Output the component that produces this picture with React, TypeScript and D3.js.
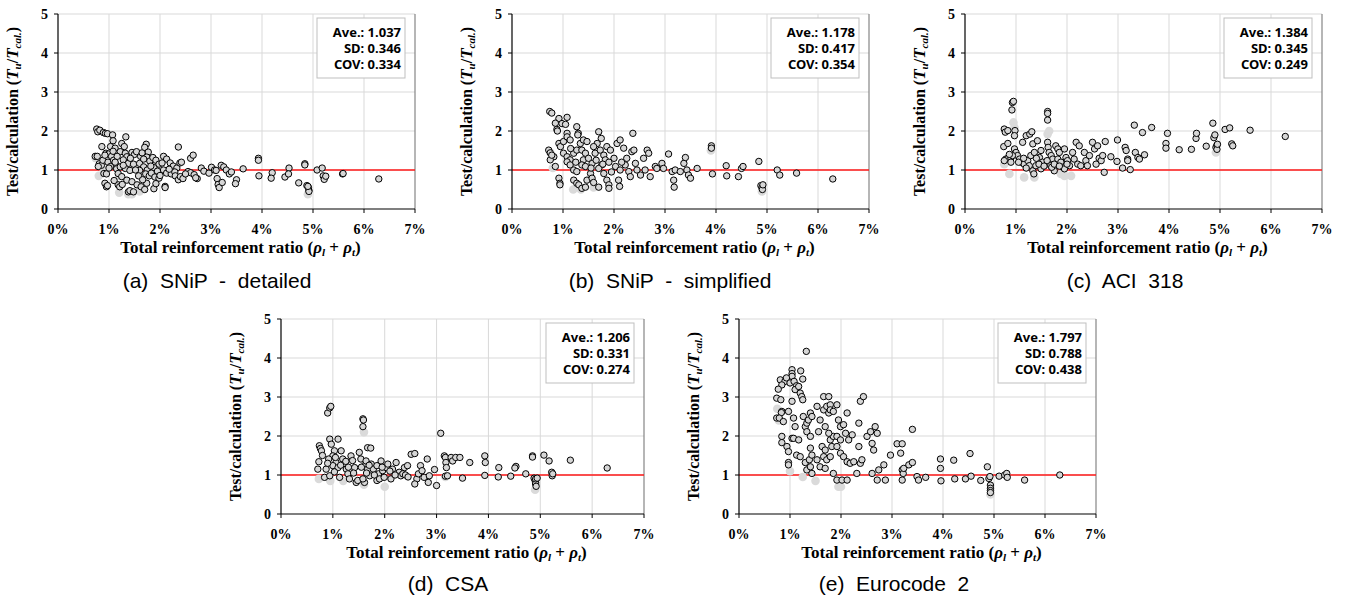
import React from "react";
import * as d3 from "d3";

type Pt = [number, number];

// reinforcement ratio (%) vs test/calculation
const snipDetailed: Pt[] = [
  [0.76,2.05],[0.78,1.98],[0.82,2.02],[0.89,1.96],[0.93,1.94],[0.97,1.93],
  [0.73,1.35],[0.77,1.35],[0.81,1.16],[0.85,1.12],[0.79,1.09],[0.86,1.6],[0.94,1.43],[0.99,1.41],[0.9,0.91],[0.95,0.9],[0.92,0.66],[0.95,0.57],[0.97,0.6],[0.88,1.25],[0.92,1.38],[0.98,1.2],
  [1.07,1.9],[1.08,1.75],[1.03,1.6],[1.12,1.56],[1.05,1.35],[1.09,1.25],[1.14,1.13],[1.03,1.09],[1.15,1.03],[1.33,1.85],[1.25,1.68],[1.3,1.6],[1.22,1.47],[1.32,1.43],[1.35,1.34],[1.28,1.26],[1.38,1.17],[1.22,1.08],[1.32,1.04],[1.41,0.99],[1.18,0.91],[1.25,0.83],[1.35,0.74],[1.45,0.7],[1.18,0.62],[1.21,0.57],[1.38,0.44],[1.41,0.47],[1.48,0.44],[1.1,0.73],[1.26,0.63],[1.45,1.45],[1.5,1.4],[1.42,1.3],[1.48,1.15],[1.08,1.48],[1.16,1.35],
  [1.54,1.47],[1.62,1.35],[1.65,1.44],[1.6,1.17],[1.68,1.08],[1.75,1.0],[1.6,0.99],[1.72,0.9],[1.79,0.85],[1.55,0.62],[1.63,0.57],[1.7,0.5],[1.74,0.66],[1.73,1.66],[1.7,1.58],[1.77,1.46],[1.74,1.33],[1.8,1.23],[1.68,1.28],[1.86,1.32],[1.92,1.25],[1.98,1.15],[1.88,1.06],[1.95,0.97],[1.83,0.92],[1.9,0.82],[1.98,0.79],[2.0,0.86],[1.88,0.52],[1.92,0.65],
  [2.07,1.35],[2.13,1.28],[2.2,1.18],[2.26,1.1],[2.33,1.05],[2.07,1.0],[2.13,0.92],[2.22,0.9],[2.29,0.95],[2.1,0.58],[2.1,0.55],[2.36,1.59],[2.39,1.18],[2.42,1.2],[2.3,0.85],[2.36,0.75],[2.4,0.83],[2.45,0.78],[2.55,0.96],[2.6,0.93],[2.67,0.88],[2.73,0.78],[2.6,1.3],[2.65,1.38],[2.7,0.8],[2.5,0.9],
  [2.81,1.05],[2.86,0.97],[2.96,0.92],[3.01,1.07],[3.07,1.0],[3.1,0.99],[3.12,0.78],[3.14,0.63],[3.16,0.55],[3.2,1.12],[3.25,1.08],[3.3,1.0],[3.36,0.9],[3.4,0.95],[3.5,0.75],[3.48,0.65],[3.22,0.68],[3.63,1.03],
  [3.93,1.3],[3.93,1.25],[3.94,0.85],[4.2,0.93],[4.18,0.79],[4.45,0.82],[4.53,1.05],[4.52,0.9],[4.72,0.67],[4.84,1.16],[4.84,1.13],[4.88,0.6],[4.91,0.55],[4.92,0.48],[4.92,0.45],[4.9,0.58],[5.08,1.0],[5.18,1.05],[5.2,0.85],[5.22,0.76],[5.25,0.84],[5.58,0.9],[5.59,0.91],[6.29,0.77],
  [1.12,1.2],[1.28,1.12],[1.52,1.0],[1.58,0.85],[1.66,0.75],[1.82,1.1],[2.04,1.18],[2.18,1.02],[1.0,1.05],
];

const snipSimplified: Pt[] = [
  [0.74,2.5],[0.78,2.46],[0.92,2.32],[0.98,2.19],[1.05,2.17],[1.08,2.35],[0.85,2.2],[0.88,2.04],[0.89,2.0],[1.08,1.94],[1.27,2.11],[1.3,1.94],[1.29,1.9],
  [0.72,1.51],[0.75,1.44],[0.82,1.34],[0.75,1.26],[0.78,1.38],[0.85,1.09],[0.92,0.79],[0.94,0.66],[0.94,0.62],
  [0.92,1.68],[0.95,1.6],[1.01,1.73],[1.08,1.85],[1.14,1.77],[1.01,1.43],[1.08,1.34],[1.14,1.26],[1.21,1.43],[1.27,1.51],
  [1.08,1.21],[1.14,1.13],[1.21,1.0],[1.27,0.96],[1.21,0.74],[1.27,0.66],[1.31,0.62],[1.37,0.53],[1.44,0.56],[1.47,0.74],
  [1.34,1.68],[1.4,1.77],[1.47,1.73],[1.37,1.51],[1.44,1.43],[1.4,1.26],[1.37,1.13],[1.44,1.09],
  [1.54,0.91],[1.57,0.79],[1.6,0.68],[1.57,1.17],[1.63,1.43],[1.7,1.98],[1.75,1.81],[1.67,1.68],[1.6,1.6],
  [1.73,1.51],[1.8,1.38],[1.86,1.6],[1.83,1.26],[1.76,1.13],[1.7,1.04],[1.8,0.91],[1.86,0.74],[1.7,0.56],[1.9,0.62],[1.9,0.53],
  [1.93,1.51],[2.0,1.3],[2.06,1.68],[2.12,1.77],[2.19,1.56],[2.03,1.09],[2.12,1.0],[2.09,0.74],[2.11,0.58],
  [2.22,1.13],[2.29,0.96],[2.32,0.83],[2.35,1.47],[2.39,1.51],[2.37,1.94],
  [2.42,1.17],[2.45,1.0],[2.52,0.87],[2.58,1.3],[2.65,1.51],[2.68,1.43],[2.71,0.83],[2.61,1.0],
  [2.81,1.09],[2.84,1.04],[2.94,1.17],[2.97,1.04],[3.07,1.41],[3.14,0.96],[3.17,0.74],[3.18,0.56],[3.2,1.0],[3.3,0.96],[3.37,1.17],[3.4,1.32],[3.43,1.0],[3.46,0.87],[3.5,0.79],[3.63,1.04],
  [3.91,1.62],[3.91,1.56],[3.93,0.9],[4.2,1.11],[4.21,0.85],[4.44,0.83],[4.5,1.04],[4.53,1.09],
  [4.84,1.22],[4.88,0.6],[4.9,0.55],[4.91,0.5],[4.92,0.62],[5.2,1.0],[5.25,0.87],[5.58,0.92],[6.29,0.77],
  [1.15,1.55],[1.25,1.2],[1.5,1.3],[1.65,1.25],[1.78,1.15],[1.9,1.2],[1.55,1.05],[1.95,0.95],[2.15,1.2],[2.25,1.3],
];

const aci318: Pt[] = [
  [0.93,2.73],[0.95,2.76],[0.92,2.54],[0.77,2.05],[0.79,1.97],[0.84,2.01],[0.98,2.01],[0.97,1.88],[0.76,1.6],[0.84,1.68],[0.8,1.28],[0.84,1.3],[0.9,1.31],[0.77,1.24],
  [0.97,1.54],[1.0,1.45],[1.03,1.37],[1.07,1.28],[0.93,1.37],[0.9,1.2],
  [1.13,1.71],[1.2,1.88],[1.27,1.92],[1.31,1.98],[1.1,1.2],[1.16,1.15],[1.23,1.24],[1.26,1.11],[1.33,0.98],[1.35,0.9],[1.29,1.37],[1.36,1.45],[1.33,1.67],
  [1.42,1.75],[1.49,1.5],[1.46,1.32],[1.52,1.2],[1.39,1.11],[1.49,1.03],
  [1.62,2.5],[1.62,2.45],[1.62,2.28],
  [1.62,1.71],[1.63,1.58],[1.65,1.45],[1.69,1.37],[1.72,1.28],[1.61,1.24],[1.68,1.11],[1.75,0.98],[1.7,1.07],
  [1.78,1.62],[1.82,1.54],[1.85,1.45],[1.82,1.28],[1.88,1.2],[1.92,1.07],[1.95,1.54],[1.98,1.32],[2.01,1.24],[1.95,1.03],[2.05,1.11],[2.11,1.45],[2.14,1.28],
  [2.18,1.71],[2.24,1.62],[2.21,1.15],[2.27,1.11],[2.34,1.45],[2.37,1.24],[2.4,1.11],[2.44,1.37],[2.5,1.71],[2.54,1.54],[2.6,1.62],[2.57,1.15],[2.63,1.3],[2.67,1.24],[2.73,0.94],[2.7,1.37],[2.75,1.73],
  [2.86,1.34],[2.99,1.77],[2.98,1.22],[3.09,1.05],[3.14,1.58],[3.16,1.5],[3.19,1.28],[3.19,1.24],[3.24,1.01],[3.32,2.15],[3.34,1.45],[3.39,1.32],[3.42,1.28],[3.48,1.96],[3.52,1.39],[3.66,2.09],
  [3.94,1.68],[3.94,1.56],[3.97,1.94],[4.2,1.52],[4.44,1.53],[4.53,1.81],[4.54,1.94],[4.73,1.61],[4.86,2.2],[4.88,1.83],[4.9,1.9],[4.92,1.58],[4.94,1.64],[4.94,1.53],[4.95,1.66],[5.1,2.04],[5.19,2.08],[5.23,1.67],[5.25,1.62],[5.59,2.02],[6.28,1.86],
  [1.05,1.2],[1.15,1.3],[1.2,1.05],[1.45,1.15],[1.55,1.1],[1.75,1.15],[1.85,1.1],[2.0,1.15],[0.87,1.4],[1.4,1.3],
];

const csa: Pt[] = [
  [0.9,2.59],[0.94,2.72],[0.96,2.76],[1.58,2.44],[1.59,2.41],[1.58,2.24],
  [0.74,1.75],[0.76,1.68],[0.78,1.62],[0.73,1.34],[0.71,1.15],[0.87,1.15],[0.84,0.94],
  [0.94,1.92],[0.97,1.79],[1.1,1.92],[1.03,1.62],[1.0,1.49],[0.92,1.41],[1.06,1.32],[1.0,1.24],[1.1,1.19],[0.94,0.98],[1.03,1.08],
  [1.16,1.62],[1.19,1.41],[1.22,1.28],[1.26,1.15],[1.29,1.03],[1.32,0.9],[1.13,0.94],[1.35,1.49],[1.38,1.37],[1.42,1.19],[1.45,0.81],[1.48,0.86],
  [1.51,1.58],[1.54,1.41],[1.61,1.24],[1.64,1.36],[1.67,1.15],[1.61,0.81],[1.58,0.9],[1.67,1.7],[1.73,1.69],[1.71,0.98],
  [1.74,1.28],[1.78,1.15],[1.85,1.24],[1.88,1.03],[1.85,0.86],[1.9,0.9],[1.93,1.36],[1.96,1.11],[1.99,0.94],[2.03,1.19],[2.06,1.28],[2.12,0.9],
  [2.15,1.15],[2.22,1.32],[2.28,1.07],[2.31,0.98],[2.35,1.03],[2.38,1.19],[2.44,1.24],[2.51,1.53],[2.58,1.55],[2.62,0.9],[2.58,0.77],[2.65,1.03],[2.69,1.24],[2.72,1.11],[2.76,0.94],[2.82,1.41],[2.84,0.81],[2.86,0.98],[2.96,1.14],[3.0,0.73],
  [3.08,2.07],
  [3.15,1.49],[3.17,1.45],[3.18,1.32],[3.19,1.19],[3.17,0.97],[3.21,0.98],
  [3.28,1.45],[3.31,1.36],[3.37,1.45],[3.45,1.45],[3.5,0.92],[3.64,1.32],[3.93,1.49],[3.94,1.32],[3.93,0.99],[4.2,1.19],[4.19,0.95],[4.43,0.97],[4.53,1.22],[4.51,1.18],[4.72,1.03],[4.85,1.49],[4.85,1.46],
  [4.88,0.92],[4.9,0.86],[4.91,0.81],[4.91,0.77],[4.92,0.71],[4.91,0.9],[4.94,0.92],
  [5.07,1.51],[5.17,1.36],[5.22,1.07],[5.23,0.98],[5.24,1.03],[5.58,1.38],[6.29,1.18],
  [0.8,1.5],[0.9,1.3],[1.05,1.45],[1.15,1.25],[1.25,1.35],[1.3,1.2],[1.4,1.05],[1.55,1.2],[1.65,1.05],[1.7,1.25],[1.8,1.0],[1.95,1.2],[2.1,1.1],[2.2,1.0],[2.4,1.0],[2.45,0.95],
];

const eurocode2: Pt[] = [
  [1.32,4.17],[1.04,3.7],[1.04,3.6],[1.04,3.53],[1.21,3.67],[1.25,3.46],
  [0.81,3.44],[0.9,3.4],[0.84,3.31],[0.93,3.49],[1.0,3.36],[1.08,3.4],[1.13,3.29],[1.1,3.19],[1.17,3.27],[1.2,3.1],[1.23,3.01],
  [0.77,3.2],[0.74,2.97],[0.82,2.93],[0.84,2.63],[0.83,2.6],[0.74,2.46],[0.79,2.46],[0.87,2.37],[0.97,2.63],[1.07,2.46],[1.1,2.24],[1.04,2.89],
  [0.84,1.99],[0.84,1.83],[0.94,1.73],[1.04,1.94],[1.07,1.94],[1.17,1.9],[0.97,1.6],[1.13,1.51],[0.97,1.32],[0.97,1.26],[1.2,1.47],[1.3,1.32],[1.33,1.13],[1.4,1.21],[1.43,1.04],
  [1.25,2.93],[1.26,2.5],[1.3,2.24],[1.33,2.33],[1.36,2.41],[1.33,2.11],[1.4,1.99],[1.4,2.59],[1.43,2.5],[1.4,1.69],[1.38,1.39],[1.43,1.51],
  [1.53,2.76],[1.59,2.41],[1.56,2.11],[1.63,1.73],[1.69,1.64],[1.66,1.47],[1.72,1.39],[1.79,1.9],[1.85,1.99],[1.82,1.73],[1.53,1.39],[1.59,1.21],[1.69,1.17],[1.79,1.47],
  [1.66,3.01],[1.76,3.01],[1.66,2.67],[1.72,2.76],[1.79,2.8],[1.76,2.59],[1.79,2.67],[1.85,2.63],[1.92,2.8],[1.69,2.24],[1.76,2.07],[1.92,1.99],[1.99,1.9],
  [1.95,2.41],[1.99,2.24],[2.05,2.29],[2.12,2.59],[2.09,2.07],[2.15,1.9],[2.22,2.03],[1.92,1.73],[1.99,1.56],[2.05,1.47],[2.12,1.34],[1.85,1.04],[1.92,0.87],[2.02,0.87],[2.12,0.87],[2.18,1.3],[2.25,1.34],[2.31,1.04],
  [2.35,2.33],[2.38,2.89],[2.44,3.01],[2.35,1.73],[2.38,1.3],[2.41,1.39],[2.51,1.99],[2.58,2.11],[2.67,2.24],[2.71,2.07],[2.61,1.81],[2.64,1.64],[2.61,1.04],[2.71,0.87],[2.74,1.13],
  [2.84,1.26],[2.87,0.87],[2.97,1.51],[3.1,1.8],[3.2,1.8],[3.17,1.56],[3.2,1.13],[3.22,1.04],[3.2,0.87],[3.23,1.17],[3.33,1.26],[3.4,2.17],[3.4,1.32],[3.49,0.96],[3.52,0.87],[3.66,0.94],
  [3.95,1.41],[3.95,1.17],[3.96,0.85],[4.21,1.38],[4.23,0.9],[4.44,0.9],[4.53,1.55],[4.55,0.97],[4.74,0.86],[4.87,1.21],[4.9,0.91],[4.92,0.96],[4.93,0.74],[4.93,0.66],[4.93,0.6],[4.93,0.55],
  [5.1,0.97],[5.21,1.0],[5.25,1.04],[5.26,0.94],[5.6,0.87],[6.29,1.0],
];

// faint grey points sitting behind the main series
const shadowA: Pt[] = [[0.74,1.3],[0.8,0.85],[0.9,1.0],[1.2,0.42],[1.38,0.38],[1.45,0.38],[1.6,0.45],[1.2,0.85],[4.9,0.38]];
const shadowB: Pt[] = [[0.75,1.45],[0.8,1.05],[0.92,2.3],[1.2,0.5],[1.35,0.5],[1.6,0.55],[3.9,1.5],[4.9,0.45]];
const shadowC: Pt[] = [[0.77,1.15],[0.87,0.9],[0.95,2.22],[0.97,2.09],[1.16,0.81],[1.36,0.81],[1.62,1.92],[1.65,2.0],[1.95,0.85],[2.08,0.85],[1.88,0.9],[4.92,1.45]];
const shadowD: Pt[] = [[0.73,0.9],[0.95,0.85],[1.2,0.85],[1.6,0.75],[1.6,2.1],[2.0,0.7],[3.17,0.95],[4.9,0.62]];
const shadowE: Pt[] = [[0.75,2.7],[0.78,2.4],[1.0,1.1],[1.25,0.95],[1.5,0.85],[1.95,0.7],[2.0,0.7],[4.93,0.5]];

const captions = ["(a)  SNiP  -  detailed", "(b)  SNiP  -  simplified", "(c)  ACI  318", "(d)  CSA", "(e)  Eurocode  2"];
const aveValues = ["1.037", "1.178", "1.384", "1.206", "1.797"];
const sdValues = ["0.346", "0.417", "0.345", "0.331", "0.788"];
const covValues = ["0.334", "0.354", "0.249", "0.274", "0.438"];

const xTicks = [0, 1, 2, 3, 4, 5, 6, 7];
const yTicks = [0, 1, 2, 3, 4, 5];

const series = [snipDetailed, snipSimplified, aci318, csa, eurocode2];
const shadows = [shadowA, shadowB, shadowC, shadowD, shadowE];

// plot rectangles
const layout = [
  { left: 58, right: 415, top: 14, bottom: 209, capX: 217, capY: 288 },
  { left: 512, right: 869, top: 14, bottom: 209, capX: 670, capY: 288 },
  { left: 965, right: 1322, top: 14, bottom: 209, capX: 1125, capY: 288 },
  { left: 281, right: 644, top: 319, bottom: 514, capX: 448, capY: 591 },
  { left: 739, right: 1096, top: 319, bottom: 514, capX: 894, capY: 591 },
];

const serif = "'Liberation Serif', 'Times New Roman', serif";
const sans = "'Liberation Sans', Arial, sans-serif";
const boxFont = "'Noto Sans', 'Open Sans', sans-serif";

function Panel({ i }: { i: number }) {
  const L = layout[i];
  const x = d3.scaleLinear().domain([0, 7]).range([L.left, L.right]);
  const y = d3.scaleLinear().domain([0, 5]).range([L.bottom, L.top]);
  const bx = L.right - 98;
  const by = L.top + 4;
  const midY = (L.top + L.bottom) / 2;
  return (
    <g>
      {/* grid */}
      {xTicks.slice(1, 7).map(t => (
        <line key={"gx" + t} x1={x(t)} x2={x(t)} y1={L.top} y2={L.bottom} stroke="#d9d9d9" strokeWidth={1} />
      ))}
      {yTicks.slice(1).map(t => (
        <line key={"gy" + t} x1={L.left} x2={L.right} y1={y(t)} y2={y(t)} stroke="#d9d9d9" strokeWidth={1} />
      ))}
      <line x1={x(7)} x2={x(7)} y1={L.top} y2={L.bottom} stroke="#858585" strokeWidth={1.2} />
      {/* reference line */}
      <line x1={L.left} x2={L.right} y1={y(1)} y2={y(1)} stroke="#ff1a1a" strokeWidth={1.5} />
      {/* points */}
      {shadows[i].map((p, k) => (
        <circle key={"s" + k} cx={x(p[0])} cy={y(p[1])} r={4.3} fill="#dadada" />
      ))}
      {series[i].map((p, k) => (
        <circle key={"p" + k} cx={x(p[0])} cy={y(p[1])} r={3.2} fill="#d6d6d6" stroke="#000" strokeWidth={1} />
      ))}
      {/* axes */}
      <line x1={L.left} x2={L.left} y1={L.top} y2={L.bottom} stroke="#000" strokeWidth={1.2} />
      <line x1={L.left} x2={L.right} y1={L.bottom} y2={L.bottom} stroke="#000" strokeWidth={1.2} />
      {yTicks.map(t => (
        <g key={"yt" + t}>
          <line x1={L.left - 4} x2={L.left} y1={y(t)} y2={y(t)} stroke="#000" />
          <text x={L.left - 10} y={y(t) + 5} textAnchor="end" fontFamily={serif} fontWeight="bold" fontSize={14}>{t}</text>
        </g>
      ))}
      {xTicks.map(t => (
        <g key={"xt" + t}>
          <line x1={x(t)} x2={x(t)} y1={L.bottom} y2={L.bottom + 4} stroke="#000" />
          <text x={x(t)} y={L.bottom + 25} textAnchor="middle" fontFamily={serif} fontWeight="bold" fontSize={14}>{t + "%"}</text>
        </g>
      ))}
      {/* axis titles */}
      <text x={(L.left + L.right) / 2 + 4} y={L.bottom + 44} textAnchor="middle" fontFamily={serif} fontWeight="bold" fontSize={17}>
        Total reinforcement ratio (<tspan fontStyle="italic">ρ</tspan><tspan fontStyle="italic" fontSize={11} dy={3}>l</tspan><tspan dy={-3}> + </tspan><tspan fontStyle="italic">ρ</tspan><tspan fontStyle="italic" fontSize={11} dy={3}>t</tspan><tspan dy={-3}>)</tspan>
      </text>
      <text transform={`translate(${L.left - 40},${midY}) rotate(-90)`} textAnchor="middle" fontFamily={serif} fontWeight="bold" fontSize={16}>
        Test/calculation (<tspan fontStyle="italic" fontSize={17}>T</tspan><tspan fontStyle="italic" fontSize={11} dy={3}>u</tspan><tspan dy={-3}>/</tspan><tspan fontStyle="italic" fontSize={17}>T</tspan><tspan fontStyle="italic" fontSize={11} dy={3}>cal.</tspan><tspan dy={-3}>)</tspan>
      </text>
      {/* stats box */}
      <rect x={bx} y={by} width={88} height={60} fill="#fff" stroke="#bfbfbf" strokeWidth={1} />
      <g fontFamily={boxFont} fontWeight="bold" fontSize={13} textAnchor="end">
        <text x={bx + 84} y={by + 19}>{"Ave.: " + aveValues[i]}</text>
        <text x={bx + 84} y={by + 35}>{"SD: " + sdValues[i]}</text>
        <text x={bx + 84} y={by + 51}>{"COV: " + covValues[i]}</text>
      </g>
      {/* caption */}
      <text x={L.capX} y={L.capY} textAnchor="middle" fontFamily={sans} fontSize={21} style={{ whiteSpace: "pre" }}>{captions[i]}</text>
    </g>
  );
}

export default function App() {
  return (
    <svg width={1349} height={603} style={{ position: "absolute", left: 0, top: 0, background: "#fff" }}>
      {layout.map((_, i) => <Panel key={i} i={i} />)}
    </svg>
  );
}
